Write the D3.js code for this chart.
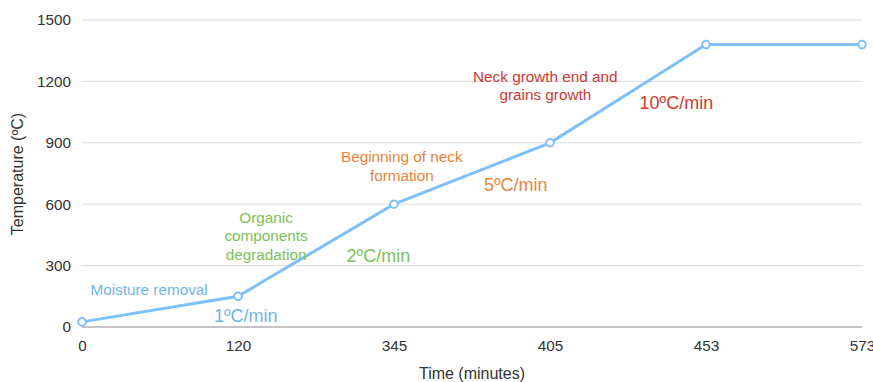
<!DOCTYPE html>
<html><head><meta charset="utf-8">
<script src="https://cdn.jsdelivr.net/npm/d3@7"></script>
<style>body{margin:0;background:#fff}svg{display:block;font-family:"Liberation Sans",Arial,sans-serif}</style>
</head><body><svg id="c" width="873" height="382"></svg>
<script>
const times = ["0","120","345","405","453","573"];
const temps = [25,150,600,900,1380,1380];
const yTicks = [0,300,600,900,1200,1500];
const annotations = [
  {lines:["Moisture removal"], x:"0", dx:0.43, y:181, color:"#6fb5ee", size:15.3},
  {lines:["1ºC/min"], x:"120", dx:0.05, y:58, color:"#6fb5ee", size:18},
  {lines:["Organic","components","degradation"], x:"120", dx:0.18, y:445, color:"#7dbf5a", size:15.3},
  {lines:["2ºC/min"], x:"120", dx:0.90, y:347, color:"#7dbf5a", size:18},
  {lines:["Beginning of neck","formation"], x:"345", dx:0.05, y:787, color:"#e8843a", size:15.3},
  {lines:["5ºC/min"], x:"345", dx:0.78, y:694, color:"#e8843a", size:18},
  {lines:["Neck growth end and","grains growth"], x:"345", dx:0.97, y:1180, color:"#d0392f", size:15.3},
  {lines:["10ºC/min"], x:"405", dx:0.81, y:1099, color:"#d0392f", size:18}
];
const svg = d3.select("#c");
const m = {l:82, r:11, t:20, b:55};
const W = 873, H = 382;
const x = d3.scalePoint().domain(times).range([m.l, W-m.r]);
const y = d3.scaleLinear().domain([0,1500]).range([H-m.b, m.t]);
const step = x.step();

// grid
svg.append("g").selectAll("line").data(yTicks.filter(d=>d>0)).join("line")
  .attr("x1", m.l).attr("x2", W-m.r).attr("y1", d=>y(d)).attr("y2", d=>y(d))
  .attr("stroke","#dcdcdc").attr("stroke-width",1);
// baseline
svg.append("line").attr("x1",m.l).attr("x2",W-m.r).attr("y1",y(0)).attr("y2",y(0))
  .attr("stroke","#8a8a8a").attr("stroke-width",1);

// y labels
const yAxis = svg.append("g").attr("transform",`translate(${m.l},0)`)
  .call(d3.axisLeft(y).tickValues(yTicks).tickSize(0).tickPadding(11).tickFormat(d3.format("d")));
yAxis.select(".domain").remove();
yAxis.selectAll("text").attr("font-size",15.3).attr("fill","#333").attr("font-family","Liberation Sans, Arial, sans-serif");

// x labels
const xAxis = svg.append("g").attr("transform",`translate(0,${y(0)})`)
  .call(d3.axisBottom(x).tickSize(0).tickPadding(13));
xAxis.select(".domain").remove();
xAxis.selectAll("text").attr("font-size",15.3).attr("fill","#333").attr("font-family","Liberation Sans, Arial, sans-serif");

// titles
svg.append("text").attr("x",472).attr("y",379).attr("text-anchor","middle")
  .attr("font-size",16).attr("fill","#333").text("Time (minutes)");
svg.append("text").attr("transform","translate(23,174) rotate(-90)").attr("text-anchor","middle")
  .attr("font-size",16).attr("fill","#333").text("Temperature (ºC)");

// line
const data = times.map((t,i)=>({t, v:temps[i]}));
svg.append("path").datum(data)
  .attr("fill","none").attr("stroke","#80c0fa").attr("stroke-width",3)
  .attr("d", d3.line().x(d=>x(d.t)).y(d=>y(d.v)));
svg.append("g").selectAll("circle").data(data).join("circle")
  .attr("cx",d=>x(d.t)).attr("cy",d=>y(d.v)).attr("r",3.8)
  .attr("fill","#fff").attr("stroke","#80c0fa").attr("stroke-width",2);

// annotations
annotations.forEach(a=>{
  const cx = x(a.x) + a.dx*step;
  const lh = a.size*1.2;
  const t = svg.append("text").attr("text-anchor","middle").attr("fill",a.color)
    .attr("font-size",a.size);
  a.lines.forEach((s,i)=>{
    t.append("tspan").attr("x",cx).attr("y", y(a.y) + (i-(a.lines.length-1)/2)*lh + a.size*0.36).text(s);
  });
});
</script></body></html>
